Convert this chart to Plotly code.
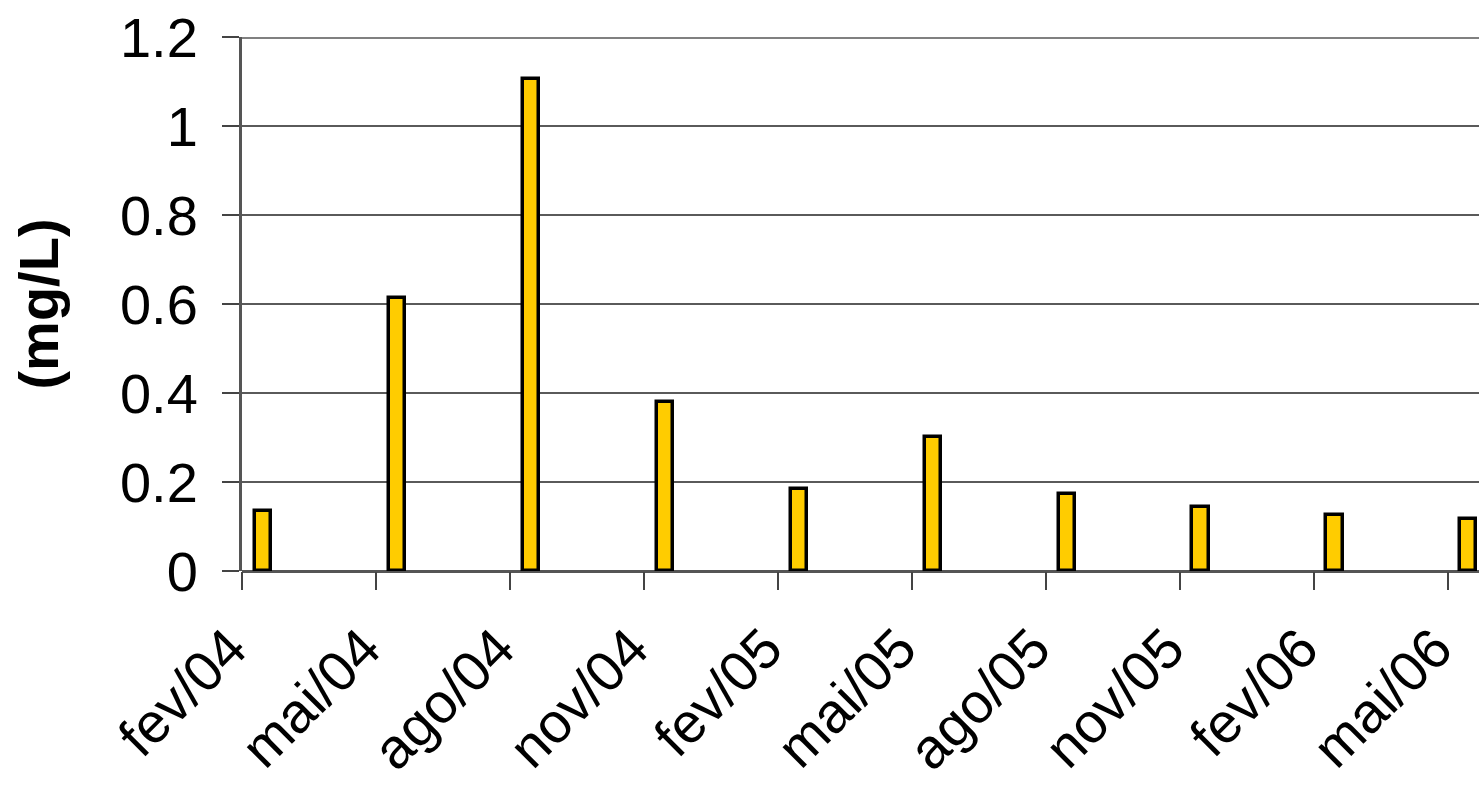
import plotly.graph_objects as go

labels = ["fev/04", "mai/04", "ago/04", "nov/04", "fev/05",
          "mai/05", "ago/05", "nov/05", "fev/06", "mai/06"]
values = [0.135, 0.613, 1.105, 0.38, 0.184, 0.301, 0.173, 0.144, 0.126, 0.117]
y_ticks = [0, 0.2, 0.4, 0.6, 0.8, 1, 1.2]
y_ticktext = ["0", "0.2", "0.4", "0.6", "0.8", "1", "1.2"]

idx = list(range(len(labels)))
FONT = "Liberation Sans, Arial, sans-serif"
Y_MAX = 1.2

fig = go.Figure()
fig.add_trace(go.Bar(
    x=idx, y=values,
    width=0.12, offset=0.096,
    marker=dict(color="#FFCC00", line=dict(color="#000000", width=3.5)),
    showlegend=False,
    cliponaxis=True,
))

fig.update_layout(
    width=1479, height=786,
    margin=dict(l=242, r=0, t=37, b=215, pad=0),
    paper_bgcolor="white", plot_bgcolor="white",
    font=dict(family=FONT, size=56, color="black"),
    bargap=0,
    xaxis=dict(
        range=[0, 9.235],
        automargin=False,
        tickmode="array", tickvals=idx, ticktext=labels,
        tickangle=-45,
        ticks="outside", ticklen=18, tickwidth=1.5, tickcolor="#444",
        showgrid=False, zeroline=False, showline=False,
        ticklabeloverflow="allow",
        ticklabelshift=-12, ticklabelstandoff=3,
        tickfont=dict(size=56, family=FONT, color="black"),
    ),
    yaxis=dict(
        range=[0, Y_MAX],
        automargin=False,
        tickmode="array", tickvals=y_ticks, ticktext=y_ticktext,
        ticks="outside", ticklen=17, tickwidth=1.5, tickcolor="#444",
        showgrid=True, gridcolor="#5a5a5a", gridwidth=1.5,
        zeroline=True, zerolinecolor="#555", zerolinewidth=3,
        showline=True, linecolor="#555", linewidth=3,
        ticklabeloverflow="allow",
        ticklabelstandoff=13,
        tickfont=dict(size=56, family=FONT, color="black"),
        title=dict(text="<b>(mg/L)</b>", standoff=44,
                   font=dict(size=56, family=FONT, color="black")),
    ),
    shapes=[dict(type="line", xref="paper", yref="y", x0=0, x1=1,
                 y0=Y_MAX, y1=Y_MAX, line=dict(color="#808080", width=4),
                 layer="above")],
)

fig.write_html(
    "out.html",
    config={"displayModeBar": False},
    post_script="document.body.style.margin='0';document.body.style.overflow='hidden';",
)
